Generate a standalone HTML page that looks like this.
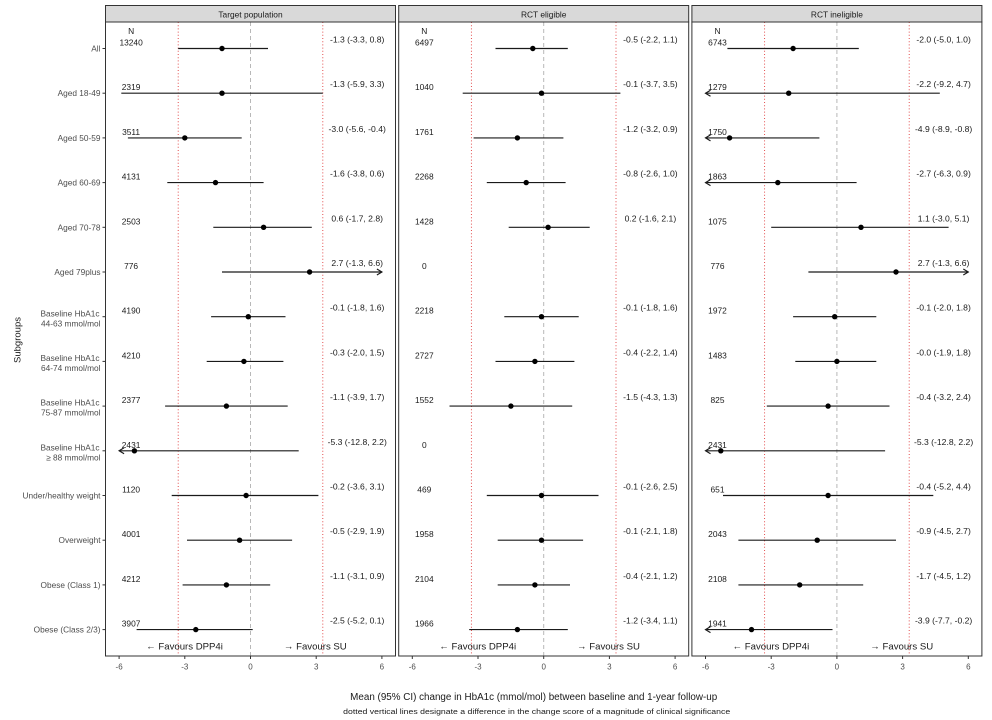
<!DOCTYPE html>
<html><head><meta charset="utf-8"><style>
html,body{margin:0;padding:0;background:#fff;}
svg{display:block;font-family:"Liberation Sans",Arial,sans-serif;}
.lab{font-size:8.3px;fill:#4d4d4d;text-anchor:end;}
.tk{font-size:8px;fill:#4d4d4d;text-anchor:middle;}
.n{font-size:8.4px;fill:#1a1a1a;text-anchor:middle;}
.e{font-size:8.6px;fill:#1a1a1a;text-anchor:middle;}
.fav{font-size:9.6px;fill:#1a1a1a;text-anchor:middle;}
.ci{stroke:#1a1a1a;stroke-width:1.15;fill:none;}
.dot{fill:#000;}
.red{stroke:#e03a3a;stroke-width:0.9;stroke-dasharray:1 2.2;}
.zero{stroke:#b8b8b8;stroke-width:1;stroke-dasharray:4 3;}
.ax{stroke:#333;stroke-width:1;}
</style></head><body>
<svg width="992" height="720" viewBox="0 0 992 720" xmlns="http://www.w3.org/2000/svg">
<rect width="992" height="720" fill="#fff"/>

<g>
<rect x="105.5" y="5.5" width="290" height="16.5" fill="#d9d9d9" stroke="#333" stroke-width="1"/>
<rect x="398.7" y="5.5" width="290" height="16.5" fill="#d9d9d9" stroke="#333" stroke-width="1"/>
<rect x="691.9" y="5.5" width="290" height="16.5" fill="#d9d9d9" stroke="#333" stroke-width="1"/>
<text x="250.5" y="17.5" style="font-size:8.4px;fill:#1a1a1a;text-anchor:middle">Target population</text>
<text x="543.7" y="17.5" style="font-size:8.4px;fill:#1a1a1a;text-anchor:middle">RCT eligible</text>
<text x="836.9" y="17.5" style="font-size:8.4px;fill:#1a1a1a;text-anchor:middle">RCT ineligible</text>
</g>

<g>
<line class="zero" x1="250.5" y1="22" x2="250.5" y2="656"/>
<line class="zero" x1="543.7" y1="22" x2="543.7" y2="656"/>
<line class="zero" x1="836.9" y1="22" x2="836.9" y2="656"/>
<line class="red" x1="178.2" y1="22" x2="178.2" y2="656"/>
<line class="red" x1="322.8" y1="22" x2="322.8" y2="656"/>
<line class="red" x1="471.4" y1="22" x2="471.4" y2="656"/>
<line class="red" x1="616.0" y1="22" x2="616.0" y2="656"/>
<line class="red" x1="764.6" y1="22" x2="764.6" y2="656"/>
<line class="red" x1="909.2" y1="22" x2="909.2" y2="656"/>
</g>

<g>
<line class="ci" x1="178.2" y1="48.5" x2="268.0" y2="48.5"/><circle class="dot" cx="222.0" cy="48.5" r="2.7"/>
<line class="ci" x1="121.3" y1="93.2" x2="322.8" y2="93.2"/><circle class="dot" cx="222.0" cy="93.2" r="2.7"/>
<line class="ci" x1="127.9" y1="137.9" x2="241.7" y2="137.9"/><circle class="dot" cx="184.8" cy="137.9" r="2.7"/>
<line class="ci" x1="167.3" y1="182.6" x2="263.6" y2="182.6"/><circle class="dot" cx="215.5" cy="182.6" r="2.7"/>
<line class="ci" x1="213.3" y1="227.3" x2="311.8" y2="227.3"/><circle class="dot" cx="263.6" cy="227.3" r="2.7"/>
<line class="ci" x1="222.0" y1="272.0" x2="381.9" y2="272.0"/><path class="ci" d="M376.9 269 L381.9 272 L376.9 275"/><circle class="dot" cx="309.6" cy="272.0" r="2.7"/>
<line class="ci" x1="211.1" y1="316.7" x2="285.5" y2="316.7"/><circle class="dot" cx="248.3" cy="316.7" r="2.7"/>
<line class="ci" x1="206.7" y1="361.4" x2="283.4" y2="361.4"/><circle class="dot" cx="243.9" cy="361.4" r="2.7"/>
<line class="ci" x1="165.1" y1="406.1" x2="287.7" y2="406.1"/><circle class="dot" cx="226.4" cy="406.1" r="2.7"/>
<line class="ci" x1="119.1" y1="450.8" x2="298.7" y2="450.8"/><path class="ci" d="M124.1 447.8 L119.1 450.8 L124.1 453.8"/><circle class="dot" cx="134.4" cy="450.8" r="2.7"/>
<line class="ci" x1="171.7" y1="495.5" x2="318.4" y2="495.5"/><circle class="dot" cx="246.1" cy="495.5" r="2.7"/>
<line class="ci" x1="187.0" y1="540.2" x2="292.1" y2="540.2"/><circle class="dot" cx="239.6" cy="540.2" r="2.7"/>
<line class="ci" x1="182.6" y1="584.9" x2="270.2" y2="584.9"/><circle class="dot" cx="226.4" cy="584.9" r="2.7"/>
<line class="ci" x1="136.6" y1="629.6" x2="252.7" y2="629.6"/><circle class="dot" cx="195.8" cy="629.6" r="2.7"/>

<text class="n" x="131.1" y="34">N</text>
<text class="n" x="131.1" y="45.5">13240</text>
<text class="n" x="131.1" y="90.2">2319</text>
<text class="n" x="131.1" y="134.9">3511</text>
<text class="n" x="131.1" y="179.6">4131</text>
<text class="n" x="131.1" y="224.3">2503</text>
<text class="n" x="131.1" y="269.0">776</text>
<text class="n" x="131.1" y="313.7">4190</text>
<text class="n" x="131.1" y="358.4">4210</text>
<text class="n" x="131.1" y="403.1">2377</text>
<text class="n" x="131.1" y="447.8">2431</text>
<text class="n" x="131.1" y="492.5">1120</text>
<text class="n" x="131.1" y="537.2">4001</text>
<text class="n" x="131.1" y="581.9">4212</text>
<text class="n" x="131.1" y="626.6">3907</text>

<text class="e" x="357.2" y="42.5">-1.3 (-3.3, 0.8)</text>
<text class="e" x="357.2" y="87.2">-1.3 (-5.9, 3.3)</text>
<text class="e" x="357.2" y="131.9">-3.0 (-5.6, -0.4)</text>
<text class="e" x="357.2" y="176.6">-1.6 (-3.8, 0.6)</text>
<text class="e" x="357.2" y="221.3">0.6 (-1.7, 2.8)</text>
<text class="e" x="357.2" y="266.0">2.7 (-1.3, 6.6)</text>
<text class="e" x="357.2" y="310.7">-0.1 (-1.8, 1.6)</text>
<text class="e" x="357.2" y="355.4">-0.3 (-2.0, 1.5)</text>
<text class="e" x="357.2" y="400.1">-1.1 (-3.9, 1.7)</text>
<text class="e" x="357.2" y="444.8">-5.3 (-12.8, 2.2)</text>
<text class="e" x="357.2" y="489.5">-0.2 (-3.6, 3.1)</text>
<text class="e" x="357.2" y="534.2">-0.5 (-2.9, 1.9)</text>
<text class="e" x="357.2" y="578.9">-1.1 (-3.1, 0.9)</text>
<text class="e" x="357.2" y="623.6">-2.5 (-5.2, 0.1)</text>
</g>

<g>
<line class="ci" x1="495.5" y1="48.5" x2="567.8" y2="48.5"/><circle class="dot" cx="532.8" cy="48.5" r="2.7"/>
<line class="ci" x1="462.7" y1="93.2" x2="620.4" y2="93.2"/><circle class="dot" cx="541.5" cy="93.2" r="2.7"/>
<line class="ci" x1="473.6" y1="137.9" x2="563.4" y2="137.9"/><circle class="dot" cx="517.4" cy="137.9" r="2.7"/>
<line class="ci" x1="486.8" y1="182.6" x2="565.6" y2="182.6"/><circle class="dot" cx="526.2" cy="182.6" r="2.7"/>
<line class="ci" x1="508.7" y1="227.3" x2="589.7" y2="227.3"/><circle class="dot" cx="548.1" cy="227.3" r="2.7"/>
<line class="ci" x1="504.3" y1="316.7" x2="578.7" y2="316.7"/><circle class="dot" cx="541.5" cy="316.7" r="2.7"/>
<line class="ci" x1="495.5" y1="361.4" x2="574.4" y2="361.4"/><circle class="dot" cx="534.9" cy="361.4" r="2.7"/>
<line class="ci" x1="449.5" y1="406.1" x2="572.2" y2="406.1"/><circle class="dot" cx="510.9" cy="406.1" r="2.7"/>
<line class="ci" x1="486.8" y1="495.5" x2="598.5" y2="495.5"/><circle class="dot" cx="541.5" cy="495.5" r="2.7"/>
<line class="ci" x1="497.7" y1="540.2" x2="583.1" y2="540.2"/><circle class="dot" cx="541.5" cy="540.2" r="2.7"/>
<line class="ci" x1="497.7" y1="584.9" x2="570.0" y2="584.9"/><circle class="dot" cx="534.9" cy="584.9" r="2.7"/>
<line class="ci" x1="469.2" y1="629.6" x2="567.8" y2="629.6"/><circle class="dot" cx="517.4" cy="629.6" r="2.7"/>

<text class="n" x="424.3" y="34">N</text>
<text class="n" x="424.3" y="45.5">6497</text>
<text class="n" x="424.3" y="90.2">1040</text>
<text class="n" x="424.3" y="134.9">1761</text>
<text class="n" x="424.3" y="179.6">2268</text>
<text class="n" x="424.3" y="224.3">1428</text>
<text class="n" x="424.3" y="269.0">0</text>
<text class="n" x="424.3" y="313.7">2218</text>
<text class="n" x="424.3" y="358.4">2727</text>
<text class="n" x="424.3" y="403.1">1552</text>
<text class="n" x="424.3" y="447.8">0</text>
<text class="n" x="424.3" y="492.5">469</text>
<text class="n" x="424.3" y="537.2">1958</text>
<text class="n" x="424.3" y="581.9">2104</text>
<text class="n" x="424.3" y="626.6">1966</text>

<text class="e" x="650.4" y="42.5">-0.5 (-2.2, 1.1)</text>
<text class="e" x="650.4" y="87.2">-0.1 (-3.7, 3.5)</text>
<text class="e" x="650.4" y="131.9">-1.2 (-3.2, 0.9)</text>
<text class="e" x="650.4" y="176.6">-0.8 (-2.6, 1.0)</text>
<text class="e" x="650.4" y="221.3">0.2 (-1.6, 2.1)</text>
<text class="e" x="650.4" y="310.7">-0.1 (-1.8, 1.6)</text>
<text class="e" x="650.4" y="355.4">-0.4 (-2.2, 1.4)</text>
<text class="e" x="650.4" y="400.1">-1.5 (-4.3, 1.3)</text>
<text class="e" x="650.4" y="489.5">-0.1 (-2.6, 2.5)</text>
<text class="e" x="650.4" y="534.2">-0.1 (-2.1, 1.8)</text>
<text class="e" x="650.4" y="578.9">-0.4 (-2.1, 1.2)</text>
<text class="e" x="650.4" y="623.6">-1.2 (-3.4, 1.1)</text>
</g>

<g>
<line class="ci" x1="727.4" y1="48.5" x2="858.8" y2="48.5"/><circle class="dot" cx="793.1" cy="48.5" r="2.7"/>
<line class="ci" x1="705.5" y1="93.2" x2="939.8" y2="93.2"/><path class="ci" d="M710.5 90.2 L705.5 93.2 L710.5 96.2"/><circle class="dot" cx="788.7" cy="93.2" r="2.7"/>
<line class="ci" x1="705.5" y1="137.9" x2="819.4" y2="137.9"/><path class="ci" d="M710.5 134.9 L705.5 137.9 L710.5 140.9"/><circle class="dot" cx="729.6" cy="137.9" r="2.7"/>
<line class="ci" x1="705.5" y1="182.6" x2="856.6" y2="182.6"/><path class="ci" d="M710.5 179.6 L705.5 182.6 L710.5 185.6"/><circle class="dot" cx="777.8" cy="182.6" r="2.7"/>
<line class="ci" x1="771.2" y1="227.3" x2="948.6" y2="227.3"/><circle class="dot" cx="861.0" cy="227.3" r="2.7"/>
<line class="ci" x1="808.4" y1="272.0" x2="968.3" y2="272.0"/><path class="ci" d="M963.3 269 L968.3 272 L963.3 275"/><circle class="dot" cx="896.0" cy="272.0" r="2.7"/>
<line class="ci" x1="793.1" y1="316.7" x2="876.3" y2="316.7"/><circle class="dot" cx="834.7" cy="316.7" r="2.7"/>
<line class="ci" x1="795.3" y1="361.4" x2="876.3" y2="361.4"/><circle class="dot" cx="836.9" cy="361.4" r="2.7"/>
<line class="ci" x1="766.8" y1="406.1" x2="889.5" y2="406.1"/><circle class="dot" cx="828.1" cy="406.1" r="2.7"/>
<line class="ci" x1="705.5" y1="450.8" x2="885.1" y2="450.8"/><path class="ci" d="M710.5 447.8 L705.5 450.8 L710.5 453.8"/><circle class="dot" cx="720.8" cy="450.8" r="2.7"/>
<line class="ci" x1="723.0" y1="495.5" x2="933.3" y2="495.5"/><circle class="dot" cx="828.1" cy="495.5" r="2.7"/>
<line class="ci" x1="738.4" y1="540.2" x2="896.0" y2="540.2"/><circle class="dot" cx="817.2" cy="540.2" r="2.7"/>
<line class="ci" x1="738.4" y1="584.9" x2="863.2" y2="584.9"/><circle class="dot" cx="799.7" cy="584.9" r="2.7"/>
<line class="ci" x1="705.5" y1="629.6" x2="832.5" y2="629.6"/><path class="ci" d="M710.5 626.6 L705.5 629.6 L710.5 632.6"/><circle class="dot" cx="751.5" cy="629.6" r="2.7"/>

<text class="n" x="717.5" y="34">N</text>
<text class="n" x="717.5" y="45.5">6743</text>
<text class="n" x="717.5" y="90.2">1279</text>
<text class="n" x="717.5" y="134.9">1750</text>
<text class="n" x="717.5" y="179.6">1863</text>
<text class="n" x="717.5" y="224.3">1075</text>
<text class="n" x="717.5" y="269.0">776</text>
<text class="n" x="717.5" y="313.7">1972</text>
<text class="n" x="717.5" y="358.4">1483</text>
<text class="n" x="717.5" y="403.1">825</text>
<text class="n" x="717.5" y="447.8">2431</text>
<text class="n" x="717.5" y="492.5">651</text>
<text class="n" x="717.5" y="537.2">2043</text>
<text class="n" x="717.5" y="581.9">2108</text>
<text class="n" x="717.5" y="626.6">1941</text>

<text class="e" x="943.6" y="42.5">-2.0 (-5.0, 1.0)</text>
<text class="e" x="943.6" y="87.2">-2.2 (-9.2, 4.7)</text>
<text class="e" x="943.6" y="131.9">-4.9 (-8.9, -0.8)</text>
<text class="e" x="943.6" y="176.6">-2.7 (-6.3, 0.9)</text>
<text class="e" x="943.6" y="221.3">1.1 (-3.0, 5.1)</text>
<text class="e" x="943.6" y="266.0">2.7 (-1.3, 6.6)</text>
<text class="e" x="943.6" y="310.7">-0.1 (-2.0, 1.8)</text>
<text class="e" x="943.6" y="355.4">-0.0 (-1.9, 1.8)</text>
<text class="e" x="943.6" y="400.1">-0.4 (-3.2, 2.4)</text>
<text class="e" x="943.6" y="444.8">-5.3 (-12.8, 2.2)</text>
<text class="e" x="943.6" y="489.5">-0.4 (-5.2, 4.4)</text>
<text class="e" x="943.6" y="534.2">-0.9 (-4.5, 2.7)</text>
<text class="e" x="943.6" y="578.9">-1.7 (-4.5, 1.2)</text>
<text class="e" x="943.6" y="623.6">-3.9 (-7.7, -0.2)</text>
</g>

<g>
<text class="fav" x="184.5" y="649.5">← Favours DPP4i</text>
<text class="fav" x="315.3" y="649.5">→ Favours SU</text>
<text class="fav" x="477.7" y="649.5">← Favours DPP4i</text>
<text class="fav" x="608.5" y="649.5">→ Favours SU</text>
<text class="fav" x="770.9" y="649.5">← Favours DPP4i</text>
<text class="fav" x="901.7" y="649.5">→ Favours SU</text>
</g>

<rect x="105.5" y="22" width="290" height="634" fill="none" stroke="#333" stroke-width="1"/>
<rect x="398.7" y="22" width="290" height="634" fill="none" stroke="#333" stroke-width="1"/>
<rect x="691.9" y="22" width="290" height="634" fill="none" stroke="#333" stroke-width="1"/>

<g class="ax">
<line x1="119.1" y1="656" x2="119.1" y2="659"/><line x1="184.8" y1="656" x2="184.8" y2="659"/><line x1="250.5" y1="656" x2="250.5" y2="659"/><line x1="316.2" y1="656" x2="316.2" y2="659"/><line x1="381.9" y1="656" x2="381.9" y2="659"/>
<line x1="412.3" y1="656" x2="412.3" y2="659"/><line x1="478.0" y1="656" x2="478.0" y2="659"/><line x1="543.7" y1="656" x2="543.7" y2="659"/><line x1="609.4" y1="656" x2="609.4" y2="659"/><line x1="675.1" y1="656" x2="675.1" y2="659"/>
<line x1="705.5" y1="656" x2="705.5" y2="659"/><line x1="771.2" y1="656" x2="771.2" y2="659"/><line x1="836.9" y1="656" x2="836.9" y2="659"/><line x1="902.6" y1="656" x2="902.6" y2="659"/><line x1="968.3" y1="656" x2="968.3" y2="659"/>
</g>
<g>
<text class="tk" x="119.1" y="669.5">-6</text><text class="tk" x="184.8" y="669.5">-3</text><text class="tk" x="250.5" y="669.5">0</text><text class="tk" x="316.2" y="669.5">3</text><text class="tk" x="381.9" y="669.5">6</text>
<text class="tk" x="412.3" y="669.5">-6</text><text class="tk" x="478.0" y="669.5">-3</text><text class="tk" x="543.7" y="669.5">0</text><text class="tk" x="609.4" y="669.5">3</text><text class="tk" x="675.1" y="669.5">6</text>
<text class="tk" x="705.5" y="669.5">-6</text><text class="tk" x="771.2" y="669.5">-3</text><text class="tk" x="836.9" y="669.5">0</text><text class="tk" x="902.6" y="669.5">3</text><text class="tk" x="968.3" y="669.5">6</text>
</g>

<g class="ax">
<line x1="102.5" y1="48.5" x2="105.5" y2="48.5"/><line x1="102.5" y1="93.2" x2="105.5" y2="93.2"/><line x1="102.5" y1="137.9" x2="105.5" y2="137.9"/><line x1="102.5" y1="182.6" x2="105.5" y2="182.6"/><line x1="102.5" y1="227.3" x2="105.5" y2="227.3"/><line x1="102.5" y1="272.0" x2="105.5" y2="272.0"/><line x1="102.5" y1="316.7" x2="105.5" y2="316.7"/><line x1="102.5" y1="361.4" x2="105.5" y2="361.4"/><line x1="102.5" y1="406.1" x2="105.5" y2="406.1"/><line x1="102.5" y1="450.8" x2="105.5" y2="450.8"/><line x1="102.5" y1="495.5" x2="105.5" y2="495.5"/><line x1="102.5" y1="540.2" x2="105.5" y2="540.2"/><line x1="102.5" y1="584.9" x2="105.5" y2="584.9"/><line x1="102.5" y1="629.6" x2="105.5" y2="629.6"/>
</g>
<g>
<text class="lab" x="100.5" y="51.5">All</text>
<text class="lab" x="100.5" y="96.2">Aged 18-49</text>
<text class="lab" x="100.5" y="140.9">Aged 50-59</text>
<text class="lab" x="100.5" y="185.6">Aged 60-69</text>
<text class="lab" x="100.5" y="230.3">Aged 70-78</text>
<text class="lab" x="100.5" y="275.0">Aged 79plus</text>
<text class="lab" x="99.5" y="316.3">Baseline HbA1c</text>
<text class="lab" x="100.5" y="326.3">44-63 mmol/mol</text>
<text class="lab" x="99.5" y="361.0">Baseline HbA1c</text>
<text class="lab" x="100.5" y="371.0">64-74 mmol/mol</text>
<text class="lab" x="99.5" y="405.7">Baseline HbA1c</text>
<text class="lab" x="100.5" y="415.7">75-87 mmol/mol</text>
<text class="lab" x="99.5" y="450.4">Baseline HbA1c</text>
<text class="lab" x="100.5" y="460.4">≥ 88 mmol/mol</text>
<text class="lab" x="100.5" y="498.5">Under/healthy weight</text>
<text class="lab" x="100.5" y="543.2">Overweight</text>
<text class="lab" x="100.5" y="587.9">Obese (Class 1)</text>
<text class="lab" x="100.5" y="632.6">Obese (Class 2/3)</text>
</g>

<text transform="translate(20.5,340) rotate(-90)" style="font-size:9.5px;fill:#1a1a1a;text-anchor:middle">Subgroups</text>

<text x="533.7" y="700" textLength="367" lengthAdjust="spacingAndGlyphs" style="font-size:9.8px;fill:#1a1a1a;text-anchor:middle">Mean (95% CI) change in HbA1c (mmol/mol) between baseline and 1-year follow-up</text>
<text x="536.7" y="714" textLength="387" lengthAdjust="spacingAndGlyphs" style="font-size:7.6px;fill:#1a1a1a;text-anchor:middle">dotted vertical lines designate a difference in the change score of a magnitude of clinical significance</text>
</svg>
</body></html>
